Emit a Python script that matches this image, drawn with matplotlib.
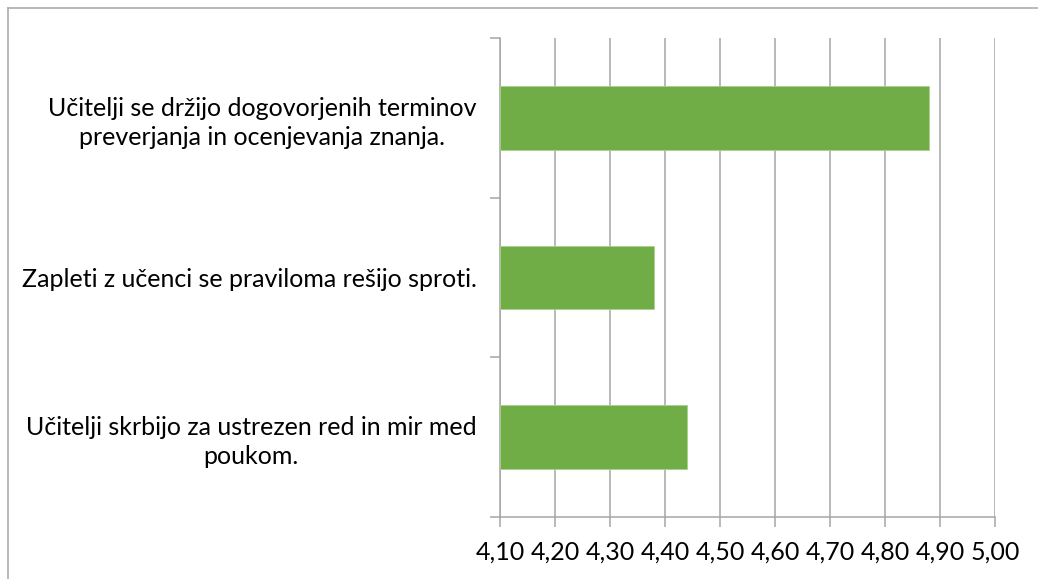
import matplotlib.pyplot as plt
from matplotlib.lines import Line2D

# data (bottom to top)
categories = ["Učitelji skrbijo za ustrezen red in mir med\npoukom.",
              "Zapleti z učenci se praviloma rešijo sproti.",
              "Učitelji se držijo dogovorjenih terminov\npreverjanja in ocenjevanja znanja."]
values = [4.44, 4.38, 4.88]
xticks = [4.10, 4.20, 4.30, 4.40, 4.50, 4.60, 4.70, 4.80, 4.90, 5.00]
xticklabels = ["4,10", "4,20", "4,30", "4,40", "4,50", "4,60", "4,70", "4,80", "4,90", "5,00"]

plt.rcParams['font.family'] = ['Lato', 'DejaVu Sans']
grey = '#A6A6A6'
W, H = 1038, 579
fs = 18

fig = plt.figure(figsize=(W / 100, H / 100), dpi=100)
ax = fig.add_axes([500 / W, 1 - 517 / H, 495 / W, 479 / H])

ypos = list(range(len(categories)))
ax.barh(ypos, [v - xticks[0] for v in values], left=xticks[0], height=0.4,
        color='#70AD47', edgecolor='#A9D18E', linewidth=0.6, zorder=3)

ax.set_xlim(xticks[0], xticks[-1])
ax.set_ylim(-0.5, len(categories) - 0.5)
ax.set_xticks(xticks)
ax.set_xticklabels(xticklabels, fontsize=fs)
ax.xaxis.grid(True, color=grey, linewidth=1.1, zorder=0)

# category boundaries as major ticks, labels on minor ticks
ax.set_yticks([i - 0.5 for i in range(len(categories) + 1)])
ax.set_yticklabels([])
ax.set_yticks(ypos, minor=True)
labels = ax.set_yticklabels(categories, minor=True, fontsize=fs)
for lab in labels:
    lab.set_multialignment('center')
    lab.set_linespacing(1.3)
ax.tick_params(axis='y', which='minor', length=0, pad=17)
ax.tick_params(axis='y', which='major', length=7, color=grey, width=1.1)
ax.tick_params(axis='x', length=7, color=grey, width=1.1, pad=10)

for s in ['top', 'right']:
    ax.spines[s].set_visible(False)
for s in ['left', 'bottom']:
    ax.spines[s].set_color(grey)
    ax.spines[s].set_linewidth(1.1)

# chart border (cut at right and bottom)
fig.add_artist(Line2D([8 / W, 8 / W], [0, 1 - 8 / H], color=grey, linewidth=1.1))
fig.add_artist(Line2D([8 / W, 1], [1 - 8 / H, 1 - 8 / H], color=grey, linewidth=1.1))

fig.savefig('out.png', dpi=100)
